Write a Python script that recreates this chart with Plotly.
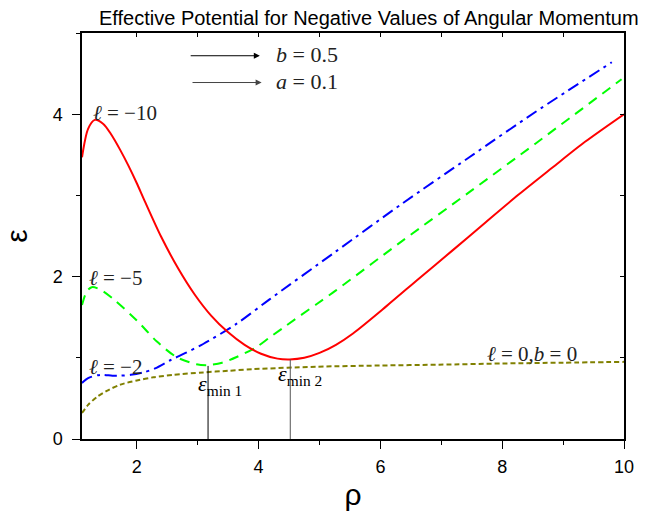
import plotly.graph_objects as go

# ---- data ----
rho_l10 = [1.1, 1.2, 1.31, 1.45, 1.58, 1.72, 1.86, 2.0, 2.13, 2.4, 2.68, 2.95, 3.22, 3.49,
           3.77, 4.04, 4.31, 4.51, 4.75, 5.0, 5.27, 5.55, 6.09, 6.64, 7.18, 7.73, 8.27, 8.82, 9.36, 10.0]
eps_l10 = [3.47, 3.82, 3.93, 3.88, 3.75, 3.57, 3.37, 3.15, 2.93, 2.49, 2.10, 1.78, 1.52, 1.32,
           1.16, 1.05, 0.99, 0.98, 1.0, 1.06, 1.16, 1.30, 1.63, 1.98, 2.32, 2.67, 3.01, 3.34, 3.66, 4.0]

rho_l5 = [1.1, 1.18, 1.26, 1.4, 1.62, 2.0, 2.33, 2.65, 2.98, 3.17, 3.4, 3.64, 3.96, 4.18,
          4.46, 4.95, 5.27, 6.36, 7.46, 8.55, 9.96]
eps_l5 = [1.65, 1.82, 1.87, 1.84, 1.72, 1.46, 1.20, 1.01, 0.92, 0.91, 0.94, 1.01, 1.13, 1.25,
          1.40, 1.66, 1.83, 2.44, 3.04, 3.64, 4.43]

rho_l2 = [1.1, 1.2, 1.4, 1.6, 1.73, 1.9, 2.11, 2.3, 2.55, 2.8, 3.09, 3.64, 4.18, 5.27,
          6.36, 7.46, 8.55, 9.8]
eps_l2 = [0.69, 0.75, 0.79, 0.78, 0.78, 0.79, 0.82, 0.87, 0.97, 1.06, 1.17, 1.42, 1.72, 2.31,
          2.90, 3.47, 4.03, 4.64]

rho_l0 = [1.1, 1.2, 1.35, 1.5, 1.73, 2.0, 2.27, 2.6, 3.09, 3.5, 3.91, 4.95, 6.0, 6.96,
          8.0, 9.0, 10.0]
eps_l0 = [0.32, 0.42, 0.52, 0.59, 0.67, 0.72, 0.76, 0.79, 0.82, 0.84, 0.86, 0.89, 0.905, 0.915,
          0.93, 0.94, 0.95]

min_rho = [3.17, 4.52]
min_eps = [0.90, 0.98]

x_ticks = [2, 4, 6, 8, 10]
y_ticks = [0, 2, 4]

SERIF = "Liberation Serif"
SANS = "Liberation Sans"

fig = go.Figure()

fig.add_trace(go.Scatter(x=rho_l0, y=eps_l0, mode="lines", line=dict(color="#808000", width=2, dash="5px,3px", shape="spline", smoothing=0.8), hoverinfo="skip"))
fig.add_trace(go.Scatter(x=rho_l2, y=eps_l2, mode="lines", line=dict(color="#0000ff", width=2, dash="12px,5px,3px,5px", shape="spline", smoothing=0.8), hoverinfo="skip"))
fig.add_trace(go.Scatter(x=rho_l5, y=eps_l5, mode="lines", line=dict(color="#00ff00", width=2, dash="10px,7px", shape="spline", smoothing=0.8), hoverinfo="skip"))
fig.add_trace(go.Scatter(x=rho_l10, y=eps_l10, mode="lines", line=dict(color="#ff0000", width=2, shape="spline", smoothing=0.8), hoverinfo="skip"))

vcols = ["#000000", "#555555"]
for i in range(len(min_rho)):
    fig.add_trace(go.Scatter(x=[min_rho[i], min_rho[i]], y=[0, min_eps[i]], mode="lines",
                             line=dict(color=vcols[i], width=1), hoverinfo="skip"))

# overlay axes for inward mirror ticks on top/right
fig.add_trace(go.Scatter(x=[1.1], y=[0], xaxis="x2", yaxis="y2", mode="markers",
                         marker=dict(opacity=0), hoverinfo="skip"))

axis_common = dict(showgrid=False, zeroline=False, showline=True, linecolor="black", linewidth=1.5,
                   ticks="outside", ticklen=8, tickwidth=1.3, tickcolor="black",
                   tickfont=dict(family=SANS, size=18, color="black"))

fig.update_layout(
    width=646, height=518,
    margin=dict(l=82, r=21, t=33, b=75),
    paper_bgcolor="white", plot_bgcolor="white",
    showlegend=False,
    xaxis=dict(range=[1.1, 10], tickvals=x_ticks, **axis_common, ticklabelstandoff=3,
               minor=dict(dtick=1, tick0=0, ticks="outside", ticklen=4, tickcolor="black", tickwidth=1.3),
               title=dict(text="ρ", font=dict(family=SANS, size=30, color="black"), standoff=8)),
    yaxis=dict(range=[0, 5], tickvals=y_ticks, **axis_common, ticklabelstandoff=6,
               minor=dict(dtick=1, tick0=0, ticks="outside", ticklen=4, tickcolor="black", tickwidth=1.3),
               title=dict(text="ε", font=dict(family=SANS, size=30, color="black"), standoff=16)),
    xaxis2=dict(range=[1.1, 10], overlaying="x", side="top", showgrid=False, zeroline=False,
                showline=True, linecolor="black", linewidth=1.5, ticks="inside", ticklen=4,
                dtick=1, tick0=0, tickcolor="black", showticklabels=False),
    yaxis2=dict(range=[0, 5], overlaying="y", side="right", showgrid=False, zeroline=False,
                showline=True, linecolor="black", linewidth=1.5, ticks="inside", ticklen=4,
                dtick=1, tick0=0, tickcolor="black", showticklabels=False),
)

ann = []
ann.append(dict(text="Effective Potential for Negative Values of Angular Momentum", xref="paper", yref="paper",
                x=(370 - 82) / 543, y=1 + (33 - 18) / 410, xanchor="center", yanchor="middle", showarrow=False,
                font=dict(family=SANS, size=20, color="black")))

def lab(text, x, y, size=21, color="#222222"):
    ann.append(dict(text=text, x=x, y=y, xref="x", yref="y", xanchor="left", yanchor="middle",
                    showarrow=False, font=dict(family=SERIF, size=size, color=color)))

lab("<i>ℓ</i> = −10", 1.24, 4.02)
lab("<i>ℓ</i> = −5", 1.19, 1.98)
lab("<i>ℓ</i> = −2", 1.19, 0.89)
lab("<i>ℓ</i> = 0,<i>b</i> = 0", 7.72, 1.05)
lab("<i>b</i> = 0.5", 4.26, 4.74, size=22)
lab("<i>a</i> = 0.1", 4.26, 4.40, size=22)
lab("<i>ε</i><sub>min 1</sub>", 2.98, 0.67, size=22, color="black")
lab("<i>ε</i><sub>min 2</sub>", 4.29, 0.79, size=22, color="black")

for (x0, x1, y, c) in [(2.86, 4.02, 4.72, "black"), (2.89, 4.05, 4.39, "#444444")]:
    ann.append(dict(x=x1, y=y, ax=x0, ay=y, xref="x", yref="y", axref="x", ayref="y", text="",
                    showarrow=True, arrowhead=2, arrowsize=1.2, arrowwidth=1, arrowcolor=c))

fig.update_layout(annotations=ann)
fig.write_html("out.html")
